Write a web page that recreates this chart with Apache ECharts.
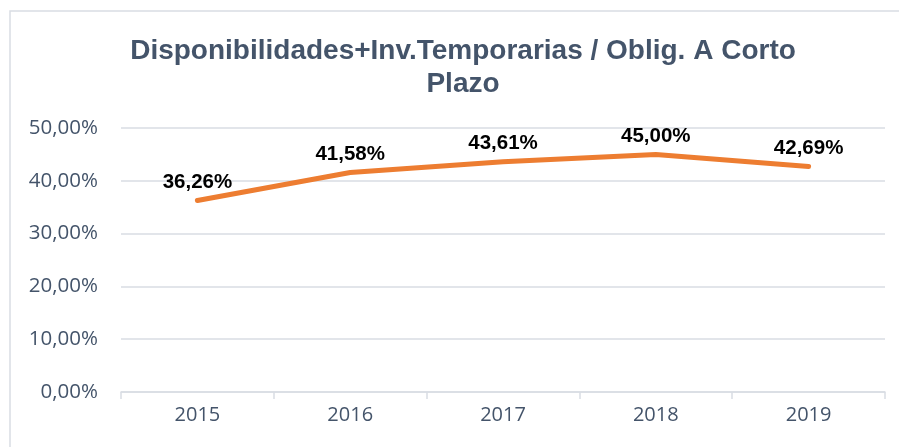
<!DOCTYPE html>
<html>
<head>
<meta charset="utf-8">
<script src="https://cdn.jsdelivr.net/npm/echarts@6/dist/echarts.min.js"></script>
<style>
  html, body { margin: 0; padding: 0; background: #fff; }
  #main { width: 899px; height: 447px; }
</style>
</head>
<body>
<div id="main"></div>
<script>
// valores
let years = ['2015', '2016', '2017', '2018', '2019'];
let ratio = [36.26, 41.58, 43.61, 45.00, 42.69];
let yTicks = { min: 0, max: 50, step: 10 };

let chartTitle = 'Disponibilidades+Inv.Temporarias / Oblig. A Corto\nPlazo';

function pct(v) {
    return v.toFixed(2).replace('.', ',') + '%';
}

let dom = document.getElementById('main');
let myChart = echarts.init(dom);

let option = {
    animation: false,
    backgroundColor: '#fff',
    title: {
        text: chartTitle,
        left: 458,
        top: 30,
        textAlign: 'center',
        textStyle: {
            fontFamily: 'Liberation Sans',
            fontSize: 28,
            fontWeight: 'bold',
            color: '#44546A',
            lineHeight: 33
        }
    },
    graphic: [{
        type: 'rect',
        shape: { x: 10, y: 11, width: 920, height: 460 },
        style: { fill: 'none', stroke: '#D9DDE3', lineWidth: 1.5 },
        silent: true
    }],
    grid: { left: 121, right: 14, top: 128, bottom: 55 },
    xAxis: {
        type: 'category',
        data: years,
        boundaryGap: true,
        axisLine: { lineStyle: { color: '#D9DDE3', width: 1.5 } },
        axisTick: { show: true, length: 7, lineStyle: { color: '#D9DDE3', width: 1.5 } },
        axisLabel: {
            margin: 13,
            fontFamily: 'Open Sans',
            fontSize: 20,
            color: '#44546A'
        }
    },
    yAxis: {
        type: 'value',
        min: yTicks.min,
        max: yTicks.max,
        interval: yTicks.step,
        axisLine: { show: false },
        axisTick: { show: false },
        splitLine: { lineStyle: { color: '#D9DDE3', width: 1.5 } },
        axisLabel: {
            margin: 23,
            fontFamily: 'Open Sans',
            fontSize: 20.5,
            color: '#44546A',
            formatter: pct
        }
    },
    series: [{
        type: 'line',
        data: ratio,
        showSymbol: true,
        symbol: 'circle',
        symbolSize: 2,
        itemStyle: { color: 'rgba(237,125,49,0)' },
        lineStyle: { color: '#ED7D31', width: 5, cap: 'round', join: 'round' },
        label: {
            show: true,
            position: 'top',
            distance: 7,
            fontFamily: 'Liberation Sans',
            fontSize: 20.5,
            fontWeight: 'bold',
            color: '#000',
            formatter: function (p) { return pct(p.value); }
        }
    }]
};

myChart.setOption(option, true);
</script>
</body>
</html>
